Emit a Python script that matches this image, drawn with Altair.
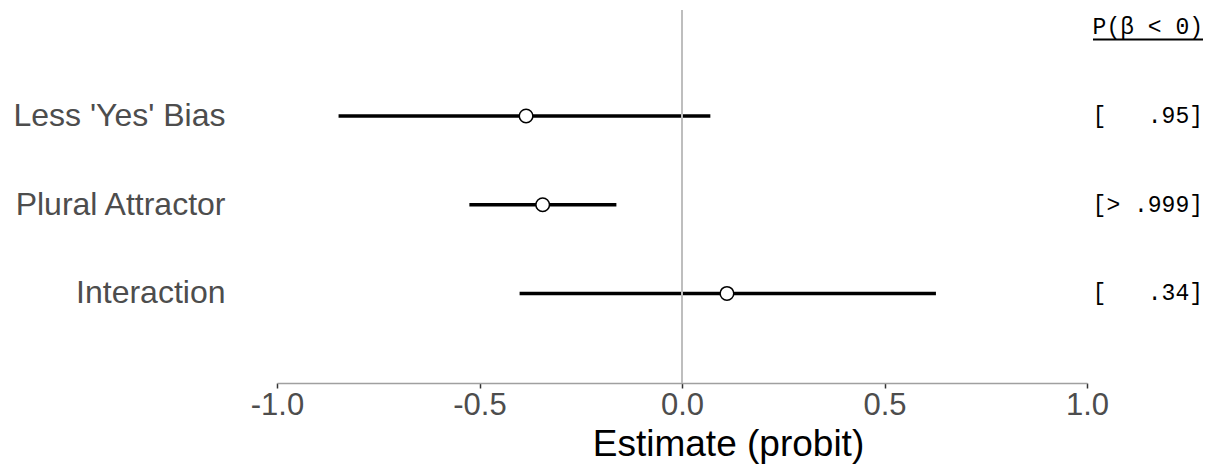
import altair as alt
import pandas as pd

terms = ["Less 'Yes' Bias", "Plural Attractor", "Interaction"]
estimates = [-0.385, -0.344, 0.111]
lower = [-0.848, -0.525, -0.401]
upper = [0.070, -0.162, 0.627]
p_labels = ["[\u00a0\u00a0\u00a0.95]", "[>\u00a0.999]", "[\u00a0\u00a0\u00a0.34]"]
x_ticks = [-1.0, -0.5, 0.0, 0.5, 1.0]
ref_value = 0.0
header = "P(\u03b2 < 0)"

df = pd.DataFrame({"term": terms, "est": estimates, "lo": lower, "hi": upper, "p": p_labels})
ref = pd.DataFrame({"ref": [ref_value]})

W, H = 810, 373

xscale = alt.Scale(domain=[x_ticks[0], x_ticks[-1]], nice=False, zero=False)
yscale = alt.Scale(type="band", paddingInner=0, paddingOuter=0.602, align=0.577)

xaxis = alt.Axis(
    values=x_ticks, labelFlush=False, labelOverlap=False,
    labelExpr="datum.value < 0 ? '-' + format(-datum.value, '.1f') : format(datum.value, '.1f')",
    labelFont="Liberation Sans", labelFontSize=31, labelColor="#4d4d4d", labelPadding=2,
    tickSize=5, tickWidth=1.5, tickColor="#333333",
    domainColor="#a0a0a0", domainWidth=1.5, grid=False,
    title="Estimate (probit)", titleFont="Liberation Sans", titleFontSize=37,
    titleFontWeight="normal", titleColor="#000000",
    titleX=451, titleY=72, titleAlign="center", titleBaseline="alphabetic",
)
yaxis = alt.Axis(
    title=None, ticks=False, domain=False, grid=False, labelLimit=0,
    labelFont="Liberation Sans", labelFontSize=32, labelColor="#4d4d4d", labelPadding=52,
)

bars = alt.Chart(df).mark_rule(color="black", strokeWidth=3.5).encode(
    x=alt.X("lo:Q", scale=xscale, axis=xaxis),
    x2="hi:Q",
    y=alt.Y("term:N", sort=terms, scale=yscale, axis=yaxis),
)

vline = alt.Chart(ref).mark_rule(color="#bebebe", strokeWidth=2).encode(
    x=alt.X("ref:Q", scale=xscale)
)

points = alt.Chart(df).mark_point(
    shape="circle", filled=True, fill="white", stroke="black", strokeWidth=1.5, size=185, opacity=1
).encode(
    x=alt.X("est:Q", scale=xscale),
    y=alt.Y("term:N", sort=terms, scale=yscale),
)

ptext = alt.Chart(df).mark_text(
    font="Liberation Mono", fontSize=23, align="right", baseline="middle", color="black"
).encode(
    x=alt.value(926),
    y=alt.Y("term:N", sort=terms, scale=yscale),
    text="p:N",
)

head = alt.Chart(pd.DataFrame({"h": [header]})).mark_text(
    font="Liberation Mono", fontSize=23, align="right", baseline="alphabetic", color="black"
).encode(x=alt.value(926), y=alt.value(24), text="h:N")

underline = alt.Chart(pd.DataFrame({"h": [header]})).mark_rule(color="black", strokeWidth=2).encode(
    x=alt.value(816), x2=alt.value(926), y=alt.value(29.5)
)

chart = alt.layer(bars, vline, points, ptext, head, underline).properties(
    width=W, height=H,
    autosize=alt.AutoSizeParams(type="none"),
    padding={"left": 269, "top": 2, "right": 119, "bottom": 81},
).configure(background="white").configure_view(stroke="transparent", strokeWidth=0)

chart.save("out.html", embed_options={"renderer": "svg", "actions": False})
